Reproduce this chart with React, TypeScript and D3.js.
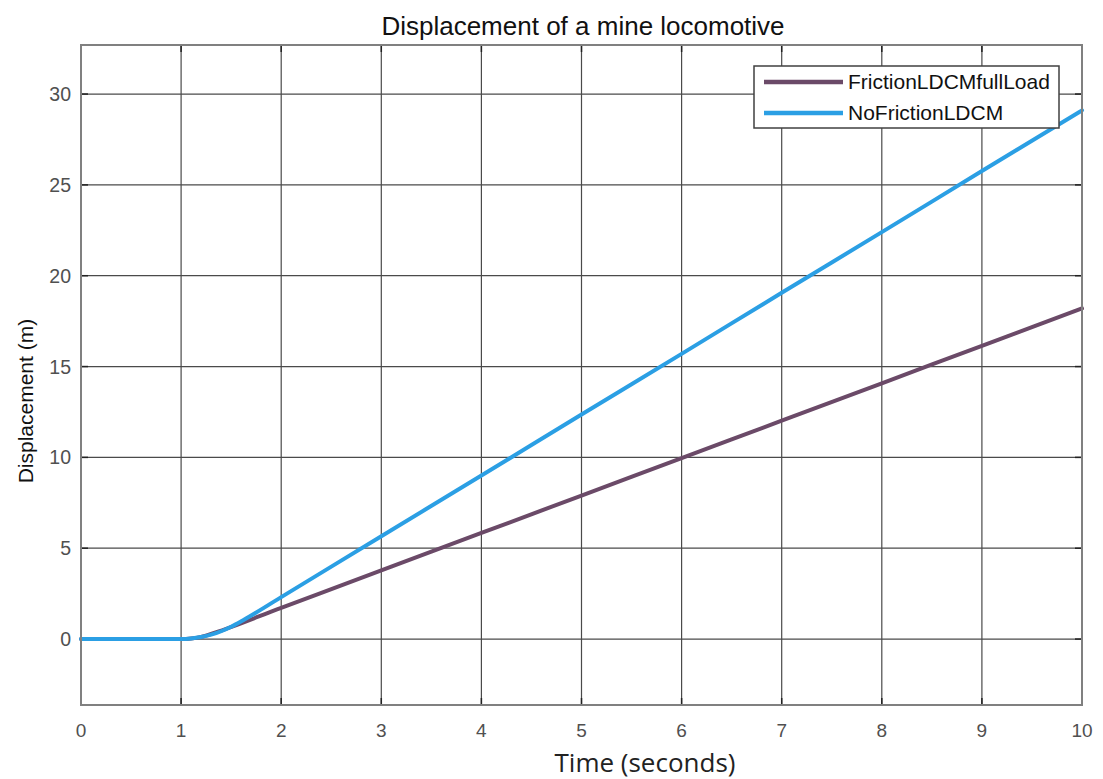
import React from "react";
import * as d3 from "d3";

// Time samples (s) and displacement (m) for each run
const timeFriction = [0, 1, 1.1, 1.2, 1.33, 2, 3, 4, 5, 6, 7, 8, 9, 10];
const dispFriction = [0, 0, 0.03, 0.12, 0.34, 1.72, 3.78, 5.84, 7.9, 9.96, 12.02, 14.08, 16.14, 18.2];

const timeNoFriction = [0, 1, 1.1, 1.2, 1.3, 1.4, 1.5, 1.62, 2, 3, 4, 5, 6, 7, 8, 9, 10];
const dispNoFriction = [0, 0, 0.03, 0.11, 0.24, 0.43, 0.68, 1.04, 2.31, 5.66, 9.0, 12.36, 15.7, 19.06, 22.4, 25.76, 29.1];

const xTicks = [0, 1, 2, 3, 4, 5, 6, 7, 8, 9, 10];
const yTicks = [0, 5, 10, 15, 20, 25, 30];

const seriesNames = ["FrictionLDCMfullLoad", "NoFrictionLDCM"];
const seriesColors = ["#6b4a68", "#2b9fe4"];

const W = 1103;
const H = 779;
const left = 81;
const right = 1082;
const top = 45;
const bottom = 705;

export default function App() {
  const x = d3.scaleLinear().domain([0, 10]).range([left, right]);
  const y = d3.scaleLinear().domain([-3.63, 32.7]).range([bottom, top]);

  const line = d3
    .line<[number, number]>()
    .x((d) => x(d[0]))
    .y((d) => y(d[1]))
    .curve(d3.curveMonotoneX);

  const series = [
    timeFriction.map((t, i) => [t, dispFriction[i]] as [number, number]),
    timeNoFriction.map((t, i) => [t, dispNoFriction[i]] as [number, number]),
  ];

  const font = "Liberation Sans, Arial, sans-serif";

  return (
    <svg
      width={W}
      height={H}
      style={{ position: "absolute", left: 0, top: 0, background: "#fff" }}
    >
      <rect x={0} y={0} width={W} height={H} fill="#fff" />
      {/* grid */}
      {xTicks.map((t) => (
        <line key={"gx" + t} x1={x(t)} x2={x(t)} y1={top} y2={bottom} stroke="#4a4a4a" strokeWidth={1.2} />
      ))}
      {yTicks.map((t) => (
        <line key={"gy" + t} x1={left} x2={right} y1={y(t)} y2={y(t)} stroke="#4a4a4a" strokeWidth={1.2} />
      ))}
      {/* tick marks on all four sides */}
      {xTicks.map((t) => (
        <g key={"tx" + t} stroke="#222" strokeWidth={1.5}>
          <line x1={x(t)} x2={x(t)} y1={bottom} y2={bottom - 7} />
          <line x1={x(t)} x2={x(t)} y1={top} y2={top + 7} />
        </g>
      ))}
      {yTicks.map((t) => (
        <g key={"ty" + t} stroke="#222" strokeWidth={1.5}>
          <line x1={left} x2={left + 7} y1={y(t)} y2={y(t)} />
          <line x1={right} x2={right - 7} y1={y(t)} y2={y(t)} />
        </g>
      ))}
      {/* data */}
      {series.map((s, i) => (
        <path
          key={"s" + i}
          d={line(s) || ""}
          fill="none"
          stroke={seriesColors[i]}
          strokeWidth={4}
          strokeLinejoin="round"
          strokeLinecap="round"
        />
      ))}
      {/* axes box */}
      <rect x={left} y={top} width={right - left} height={bottom - top} fill="none" stroke="#808080" strokeWidth={2} />
      {/* tick labels */}
      {xTicks.map((t) => (
        <text key={"lx" + t} x={x(t)} y={737} textAnchor="middle" fontFamily={font} fontSize={19} fill="#505050">
          {t}
        </text>
      ))}
      {yTicks.map((t) => (
        <text key={"ly" + t} x={71} y={y(t) + 7} textAnchor="end" fontFamily={font} fontSize={19.5} fill="#505050">
          {t}
        </text>
      ))}
      {/* title and axis labels */}
      <text x={583} y={35} textAnchor="middle" fontFamily={font} fontSize={26} fill="#111">
        Displacement of a mine locomotive
      </text>
      <text x={645} y={772} textAnchor="middle" fontFamily="Open Sans, sans-serif" fontSize={26} fill="#222">
        Time (seconds)
      </text>
      <text
        transform={`translate(33, ${y(13.1)}) rotate(-90)`}
        textAnchor="middle"
        fontFamily={font}
        fontSize={21}
        fill="#111"
      >
        Displacement (m)
      </text>
      {/* legend */}
      <rect x={754} y={66} width={305} height={62} fill="#fff" stroke="#404040" strokeWidth={1.5} />
      {seriesNames.map((name, i) => (
        <g key={"lg" + i}>
          <line x1={764} x2={843} y1={82 + i * 31} y2={82 + i * 31} stroke={seriesColors[i]} strokeWidth={4.5} />
          <text x={848} y={82 + i * 31 + 7} fontFamily={font} fontSize={21} fill="#111">
            {name}
          </text>
        </g>
      ))}
    </svg>
  );
}
